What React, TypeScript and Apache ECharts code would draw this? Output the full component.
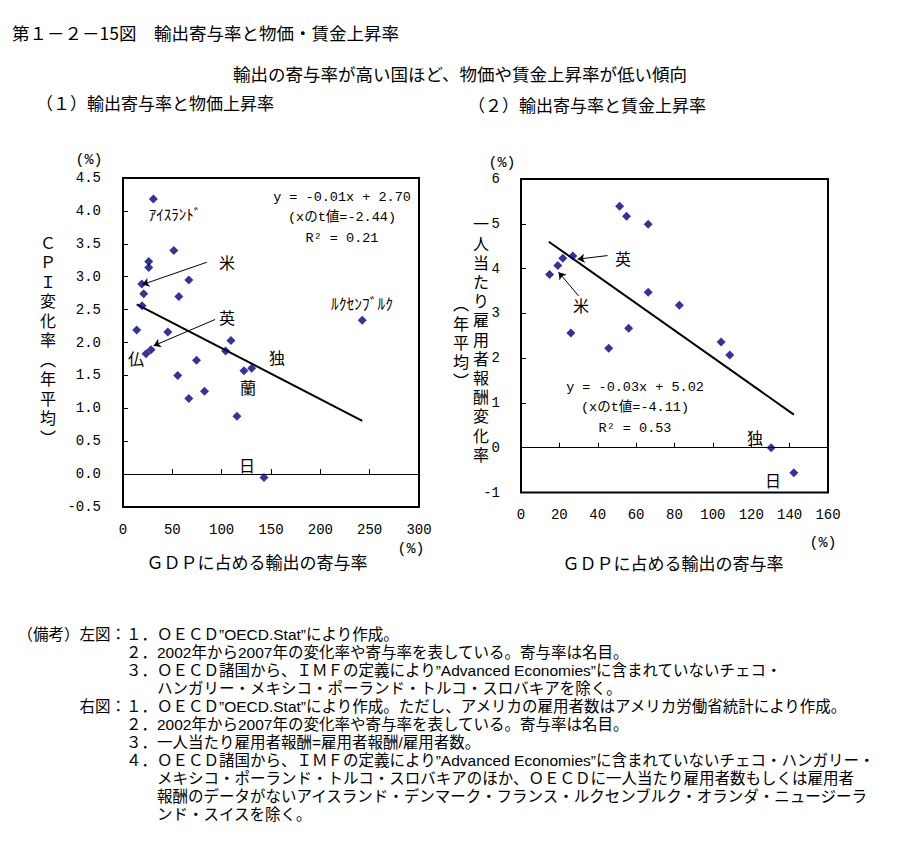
import React, { useEffect, useRef } from "react";
import * as echarts from "echarts";

// ---- Data ----
// Left: export contribution (% of GDP) vs CPI change (annual avg, %)
const leftExport = [30.8, 51.5, 26.1, 26.1, 66.7, 19.0, 21.0, 56.6, 19.3, 13.9, 45.4, 242.5, 109.4, 28.4, 23.4, 104.0, 74.5, 122.6, 130.4, 55.5, 66.7, 82.6, 115.5, 142.9];
const leftCpi = [4.18, 3.40, 3.23, 3.14, 2.95, 2.89, 2.74, 2.70, 2.56, 2.19, 2.16, 2.34, 2.03, 1.89, 1.83, 1.87, 1.73, 1.57, 1.61, 1.50, 1.15, 1.26, 0.88, -0.05];
const leftTrendX = [13.9, 242.5];
const leftTrendY = [2.58, 0.81];

// Right: export contribution vs compensation per employee change
const rightExport = [51.4, 55.0, 66.3, 27.0, 21.8, 19.2, 14.9, 66.3, 82.5, 26.0, 56.1, 45.7, 104.3, 108.8, 130.4, 142.2];
const rightWage = [5.39, 5.17, 4.99, 4.28, 4.23, 4.07, 3.87, 3.47, 3.18, 2.56, 2.67, 2.22, 2.36, 2.07, 0.0, -0.56];
const rightTrendX = [14.5, 142.2];
const rightTrendY = [4.60, 0.74];

// Axis ranges / ticks
const leftXRange = [0, 300, 50];
const leftYRange = [-0.5, 4.5, 0.5];
const rightXRange = [0, 160, 20];
const rightYRange = [-1, 6, 1];

// Arrow annotations (data space): [fromX, fromY, toX, toY]
const leftArrows = [
  [85, 3.22, 19.5, 2.88],
  [93.4, 2.35, 31, 1.95],
];
const rightArrows = [
  [45.1, 4.29, 29.5, 4.21],
  [30.0, 3.39, 19.6, 3.92],
];

// Texts
const titleText = "第１－２－15図　輸出寄与率と物価・賃金上昇率";
const subtitleText = "輸出の寄与率が高い国ほど、物価や賃金上昇率が低い傾向";
const leftPanelTitle = "（１）輸出寄与率と物価上昇率";
const rightPanelTitle = "（２）輸出寄与率と賃金上昇率";
const xAxisName = "ＧＤＰに占める輸出の寄与率";
const leftYName = "ＣＰＩ変化率︵年平均︶";
const rightYName1 = "一人当たり雇用者報酬変化率";
const rightYName2 = "︵年平均︶";
const leftEq = ["y = -0.01x + 2.70", "(xのt値=-2.44)", "R² = 0.21"];
const rightEq = ["y = -0.03x + 5.02", "(xのt値=-4.11)", "R² = 0.53"];

const notesHeadLeft = "（備考）左図：";
const notesHeadRight = "右図：";
const notesLeft = [
  ["１．ＯＥＣＤ”OECD.Stat”により作成。"],
  ["２．2002年から2007年の変化率や寄与率を表している。寄与率は名目。"],
  ["３．ＯＥＣＤ諸国から、ＩＭＦの定義により”Advanced Economies”に含まれていないチェコ・", "ハンガリー・メキシコ・ポーランド・トルコ・スロバキアを除く。"],
];
const notesRight = [
  ["１．ＯＥＣＤ”OECD.Stat”により作成。ただし、アメリカの雇用者数はアメリカ労働省統計により作成。"],
  ["２．2002年から2007年の変化率や寄与率を表している。寄与率は名目。"],
  ["３．一人当たり雇用者報酬=雇用者報酬/雇用者数。"],
  ["４．ＯＥＣＤ諸国から、ＩＭＦの定義により”Advanced Economies”に含まれていないチェコ・ハンガリー・", "メキシコ・ポーランド・トルコ・スロバキアのほか、ＯＥＣＤに一人当たり雇用者数もしくは雇用者", "報酬のデータがないアイスランド・デンマーク・フランス・ルクセンブルク・オランダ・ニュージーラ", "ンド・スイスを除く。"],
];

const JP = '"Noto Sans CJK JP", sans-serif';
// Tight-line texts: a compact Latin primary font, CJK glyphs fall back to Noto Sans CJK JP
const JPTIGHT = '"Liberation Sans", "Noto Sans CJK JP", sans-serif';
const MONO = '"Liberation Mono", "Noto Sans CJK JP", monospace';

function txt(text: string, x: number, y: number, size: number, family: string, align: string = "left", extra: any = {}) {
  return {
    type: "text",
    x,
    y,
    silent: true,
    z: 100,
    style: {
      text,
      fill: "#000",
      fontSize: size,
      fontFamily: family,
      align,
      textAlign: align,
      verticalAlign: "middle",
      textVerticalAlign: "middle",
      ...extra,
    },
  };
}

function vtxt(text: string, x: number, yFirst: number, size: number, lh: number) {
  const chars = Array.from(text);
  return {
    type: "text",
    x,
    y: yFirst - lh / 2,
    silent: true,
    z: 100,
    style: {
      text: chars.join("\n"),
      fill: "#000",
      fontSize: size,
      fontFamily: JPTIGHT,
      lineHeight: lh,
      align: "center",
      textAlign: "center",
      verticalAlign: "top",
      textVerticalAlign: "top",
    },
  };
}

function zip(a: number[], b: number[]) {
  return a.map((v, i) => [v, b[i]]);
}

function arrowLines(arr: number[][]) {
  return arr.map((a) => [{ coord: [a[0], a[1]] }, { coord: [a[2], a[3]] }]);
}

function buildOption() {
  const labelStyle = { color: "#000", fontFamily: MONO, fontSize: 14 };
  const xLabelAxis = (grid: number, r: number[], margin: number) => ({
    gridIndex: grid,
    type: "value",
    min: r[0],
    max: r[1],
    interval: r[2],
    position: "bottom",
    axisLine: { show: false, onZero: false },
    axisTick: { show: false },
    splitLine: { show: false },
    axisLabel: { ...labelStyle, margin },
  });
  const xZeroAxis = (grid: number, r: number[]) => ({
    gridIndex: grid,
    type: "value",
    min: r[0],
    max: r[1],
    interval: r[2],
    position: "bottom",
    axisLine: { show: true, onZero: true, lineStyle: { color: "#000", width: 1 } },
    axisTick: { show: true, inside: true, length: 5, lineStyle: { color: "#000", width: 1 } },
    axisLabel: { show: false },
    splitLine: { show: false },
  });
  const yAxisDef = (grid: number, r: number[], fmt: (v: number) => string, margin: number) => ({
    gridIndex: grid,
    type: "value",
    min: r[0],
    max: r[1],
    interval: r[2],
    axisLine: { show: false, onZero: false },
    axisTick: { show: true, inside: true, length: 5, lineStyle: { color: "#000", width: 1 } },
    splitLine: { show: false },
    axisLabel: { ...labelStyle, margin, formatter: fmt },
  });

  const scatterBase = {
    type: "scatter",
    symbol: "diamond",
    symbolSize: 9,
    itemStyle: { color: "#000080" },
    silent: true,
    z: 5,
  };
  const markLineBase = {
    silent: true,
    symbol: ["none", "arrow"],
    symbolSize: 7,
    label: { show: false },
    lineStyle: { color: "#000", width: 1, type: "solid" },
    emphasis: { disabled: true },
  };

  const graphics: any[] = [];
  graphics.push(txt(titleText, 12, 32, 17.5, JP));
  graphics.push(txt(subtitleText, 460, 73, 17.5, JP, "center"));
  graphics.push(txt(leftPanelTitle, 36, 102, 17, JP));
  graphics.push(txt(rightPanelTitle, 468, 104, 17, JP));

  // left panel texts
  graphics.push(txt("(%)", 89, 160, 15, MONO, "center"));
  graphics.push(txt("(%)", 411, 549, 15, MONO, "center"));
  graphics.push(txt(xAxisName, 257, 561, 17, JP, "center"));
  graphics.push(vtxt(leftYName, 48, 243, 16, 19.5));
  leftEq.forEach((s, i) => graphics.push(txt(s, 342, 197 + i * 20.5, 13.5, MONO, "center")));
  graphics.push(txt("ｱｲｽﾗﾝﾄﾞ", 175, 213, 15, JP, "center"));
  graphics.push(txt("ﾙｸｾﾝﾌﾞﾙｸ", 362, 303, 15.5, JP, "center"));
  graphics.push(txt("米", 227, 262, 16, JP, "center"));
  graphics.push(txt("英", 227, 317, 16, JP, "center"));
  graphics.push(txt("仏", 136, 358, 16, JP, "center"));
  graphics.push(txt("独", 277, 357, 16, JP, "center"));
  graphics.push(txt("蘭", 248, 387, 16, JP, "center"));
  graphics.push(txt("日", 247, 465, 16, JP, "center"));

  // right panel texts
  graphics.push(txt("(%)", 502, 163, 15, MONO, "center"));
  graphics.push(txt("(%)", 823, 543, 15, MONO, "center"));
  graphics.push(txt(xAxisName, 673, 562, 17, JP, "center"));
  graphics.push(vtxt(rightYName1, 481, 225, 16, 19.2));
  graphics.push(vtxt(rightYName2, 461, 305, 16, 19.2));
  rightEq.forEach((s, i) => graphics.push(txt(s, 635, 387 + i * 20.5, 13.5, MONO, "center")));
  graphics.push(txt("英", 623, 258, 16, JP, "center"));
  graphics.push(txt("米", 581, 305, 16, JP, "center"));
  graphics.push(txt("独", 755, 437, 16, JP, "center"));
  graphics.push(txt("日", 773, 480, 16, JP, "center"));

  // notes
  const lh = 18;
  let row = 0;
  const y0 = 634;
  const numX = 126;
  const ns = 15.5;
  const contX = numX + ns * 2;
  graphics.push(txt(notesHeadLeft, numX, y0, ns, JPTIGHT, "right"));
  notesLeft.forEach((item) => {
    item.forEach((line, k) => {
      graphics.push(txt(line, k === 0 ? numX : contX, y0 + row * lh, ns, JPTIGHT));
      row++;
    });
  });
  graphics.push(txt(notesHeadRight, numX, y0 + row * lh, ns, JPTIGHT, "right"));
  notesRight.forEach((item) => {
    item.forEach((line, k) => {
      graphics.push(txt(line, k === 0 ? numX : contX, y0 + row * lh, ns, JPTIGHT));
      row++;
    });
  });

  return {
    animation: false,
    backgroundColor: "#fff",
    textStyle: { fontFamily: JP },
    grid: [
      { left: 123, top: 178, width: 296, height: 329, show: true, borderColor: "#000", borderWidth: 2, backgroundColor: "transparent" },
      { left: 521, top: 179, width: 307, height: 313.5, show: true, borderColor: "#000", borderWidth: 2, backgroundColor: "transparent" },
    ],
    xAxis: [
      xLabelAxis(0, leftXRange, 16),
      xZeroAxis(0, leftXRange),
      xLabelAxis(1, rightXRange, 15),
      xZeroAxis(1, rightXRange),
    ],
    yAxis: [
      yAxisDef(0, leftYRange, (v: number) => v.toFixed(1), 22),
      yAxisDef(1, rightYRange, (v: number) => String(v), 21),
    ],
    series: [
      {
        ...scatterBase,
        xAxisIndex: 0,
        yAxisIndex: 0,
        data: zip(leftExport, leftCpi),
        markLine: { ...markLineBase, data: arrowLines(leftArrows) },
      },
      {
        type: "line",
        xAxisIndex: 0,
        yAxisIndex: 0,
        data: zip(leftTrendX, leftTrendY),
        symbol: "none",
        lineStyle: { color: "#000", width: 2 },
        silent: true,
        z: 4,
      },
      {
        ...scatterBase,
        xAxisIndex: 2,
        yAxisIndex: 1,
        data: zip(rightExport, rightWage),
        markLine: { ...markLineBase, data: arrowLines(rightArrows) },
      },
      {
        type: "line",
        xAxisIndex: 2,
        yAxisIndex: 1,
        data: zip(rightTrendX, rightTrendY),
        symbol: "none",
        lineStyle: { color: "#000", width: 2 },
        silent: true,
        z: 4,
      },
    ],
    graphic: graphics,
  };
}

export default function App() {
  const ref = useRef<HTMLDivElement>(null);
  useEffect(() => {
    document.body.style.margin = "0";
    const chart = echarts.init(ref.current as HTMLDivElement, null, { renderer: "svg" });
    chart.setOption(buildOption() as any);
    return () => chart.dispose();
  }, []);
  return <div ref={ref} style={{ width: 924, height: 850 }} />;
}
